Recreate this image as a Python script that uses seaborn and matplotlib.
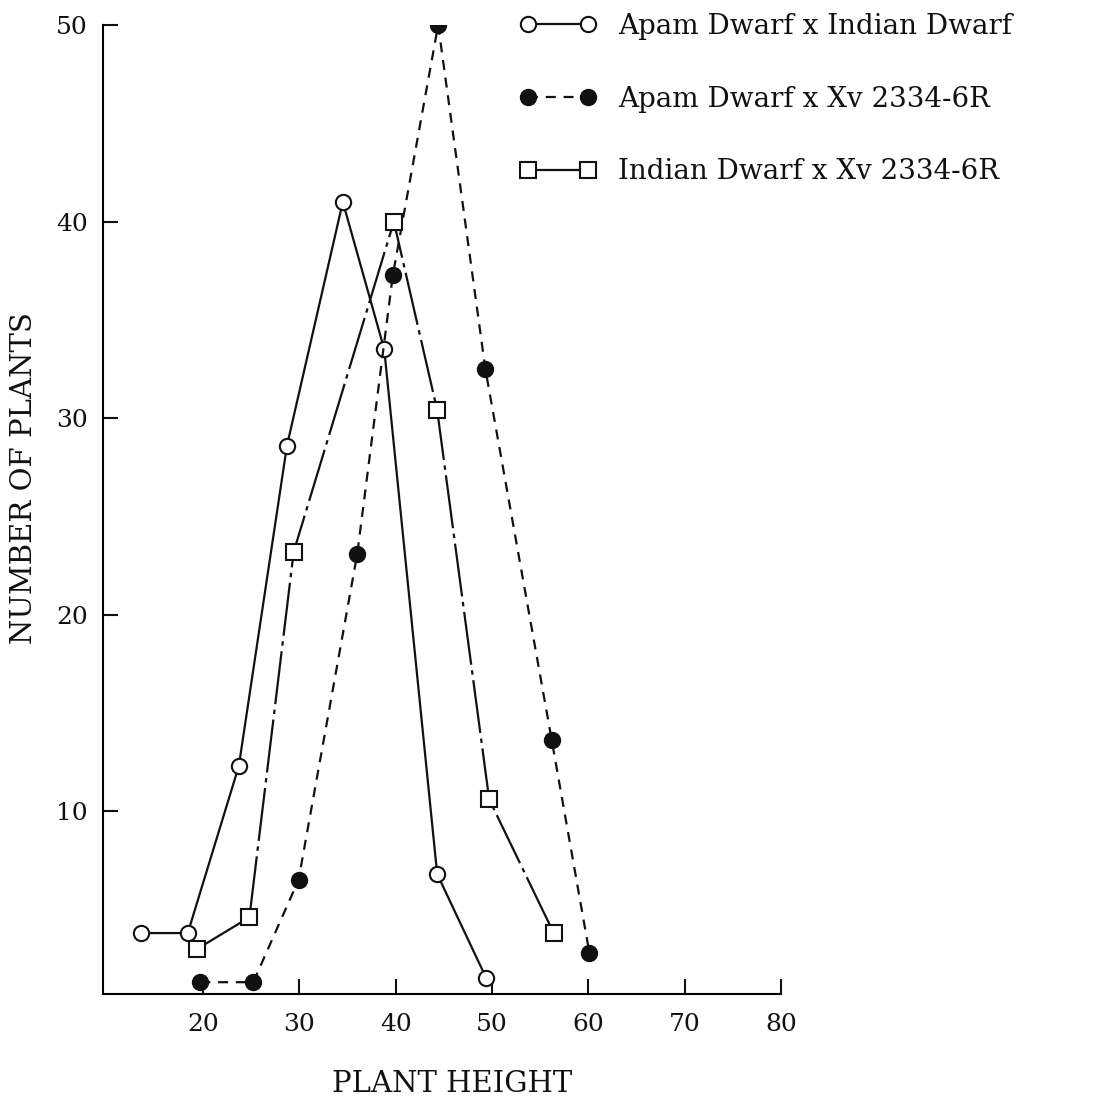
import matplotlib
matplotlib.use("Agg")
import matplotlib.pyplot as plt
import pandas as pd
import seaborn as sns

# --------------------------------------------------------------
# Data
# --------------------------------------------------------------
apam_indian_height = [13.5, 18.4, 23.7, 28.7, 34.5, 38.8, 44.3, 49.4]
apam_indian_count = [3.8, 3.8, 12.3, 28.6, 41.0, 33.5, 6.8, 1.5]

apam_xv_height = [19.7, 25.2, 29.9, 36.0, 39.7, 44.4, 49.3, 56.2, 60.1]
apam_xv_count = [1.3, 1.3, 6.5, 23.1, 37.3, 50.0, 32.5, 13.6, 2.8]

indian_xv_height = [19.4, 24.8, 29.4, 39.8, 44.3, 49.7, 56.4]
indian_xv_count = [3.0, 4.6, 23.2, 40.0, 30.4, 10.6, 3.8]

labels = [
    "Apam Dwarf x Indian Dwarf",
    "Apam Dwarf x Xv 2334-6R",
    "Indian Dwarf x Xv 2334-6R",
]
x_ticks = [20, 30, 40, 50, 60, 70, 80]
y_ticks = [10, 20, 30, 40, 50]

# --------------------------------------------------------------
# Styling
# --------------------------------------------------------------
BLACK = "#111111"

sns.set_style("ticks")
plt.rcParams["font.family"] = ["DejaVu Serif"]
plt.rcParams["text.color"] = BLACK
plt.rcParams["axes.labelcolor"] = BLACK
plt.rcParams["axes.spines.right"] = False
plt.rcParams["axes.spines.top"] = False
plt.rcParams["axes.linewidth"] = 1.5
plt.rcParams["axes.edgecolor"] = "black"

fig = plt.figure(figsize=(11.02, 10.97), dpi=100)
ax = fig.add_axes([0.0935, 0.0939, 0.6152, 0.8833])

series = [
    (apam_indian_height, apam_indian_count, "o", "white", "-"),
    (apam_xv_height, apam_xv_count, "o", BLACK, (0, (4.5, 3.5))),
    (indian_xv_height, indian_xv_count, "s", "white", (0, (24, 2.5, 2, 2.5))),
]

for (xs, ys, marker, face, ls), label in zip(series, labels):
    df = pd.DataFrame({"height": xs, "count": ys})
    sns.lineplot(
        data=df,
        x="height",
        y="count",
        estimator=None,
        sort=False,
        ax=ax,
        color=BLACK,
        linewidth=1.6,
        linestyle=ls,
        marker=marker,
        markersize=11,
        markerfacecolor=face,
        markeredgecolor=BLACK,
        markeredgewidth=1.5,
        label=label,
    )

# --------------------------------------------------------------
# Axes
# --------------------------------------------------------------
ax.set_xlim(9.6, 80)
ax.set_ylim(0.7, 50)
ax.set_xticks(x_ticks)
ax.set_yticks(y_ticks)
ax.tick_params(
    axis="both", direction="in", length=11, width=1.5, labelsize=18, colors=BLACK
)
ax.tick_params(axis="x", pad=14)
ax.tick_params(axis="y", pad=11)

ax.set_xlabel("PLANT HEIGHT", fontsize=21, color=BLACK)
ax.set_ylabel("NUMBER OF PLANTS", fontsize=21, color=BLACK)
ax.xaxis.set_label_coords(0.515, -0.078)
ax.yaxis.set_label_coords(-0.096, 0.532)

# Legend outside the axes, top right
ax.legend(
    loc="upper left",
    bbox_to_anchor=(0.472, 0.988),
    bbox_transform=fig.transFigure,
    frameon=False,
    numpoints=2,
    fontsize=20,
    handlelength=2.76,
    handletextpad=0.77,
    labelspacing=1.64,
    borderaxespad=0,
    borderpad=0,
)

fig.savefig("out.png", dpi=100)
